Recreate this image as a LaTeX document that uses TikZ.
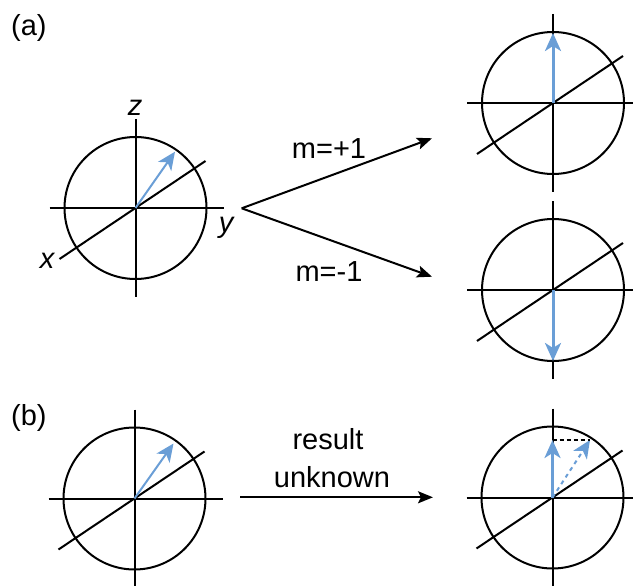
\documentclass[tikz,border=0pt]{standalone}
\usepackage{fontspec}
\setmainfont{Liberation Sans}
\usetikzlibrary{arrows.meta}

\definecolor{spinblue}{RGB}{106,158,214}

\tikzset{
  axis/.style={line width=2pt},
  spin/.style={spinblue,line width=2pt,-{Stealth[length=18pt,width=16pt,inset=5pt]}},
  spinz/.style={spin,line width=3pt},
  fate/.style={line width=2pt,-{Stealth[length=15pt,width=12pt,inset=3pt]}},
  lab/.style={inner sep=0pt,anchor=base},
}

\begin{document}
\begin{tikzpicture}[x=1pt,y=-1pt,font=\fontsize{29}{36}\selectfont]
\useasboundingbox (0,0) rectangle (633,586);
% sphere centres
\coordinate (A) at (135.5,208);
\coordinate (B) at (553,103);
\coordinate (C) at (553,290);
\coordinate (D) at (134.5,498.5);
\coordinate (E) at (552.5,497.5);
\foreach \c in {A,B,C,D,E}{
  \draw[axis] (\c) circle[radius=71pt];
  \draw[axis] ([shift={(0,-89)}]\c) -- ([shift={(0,89)}]\c);
  \draw[axis] ([shift={(-86,0)}]\c) -- ([shift={(88,0)}]\c);
  \draw[axis] ([shift={(-76,51)}]\c) -- ([shift={(70,-47)}]\c);
}
% axis letters
\node[lab] (zlab) at (135,116) {\itshape z};
\node[lab] (ylab) at (226,233) {\itshape y};
\node[lab] (xlab) at (47,268) {\itshape x};
% spins
\coordinate (Atip) at ([shift={(39.5,-56.3)}]A);
\coordinate (Btip) at ([shift={(0,-70)}]B);
\coordinate (Ctip) at ([shift={(0,71)}]C);
\coordinate (Dtip) at ([shift={(39,-55)}]D);
\coordinate (Etip) at ([shift={(0,-57.5)}]E);
\coordinate (Eold) at ([shift={(37.5,-57.5)}]E);
\draw[spin] (A) -- (Atip);
\draw[spinz] (B) -- (Btip);
\draw[spinz] (C) -- (Ctip);
\draw[spin] (D) -- (Dtip);
\draw[spinz] (E) -- (Etip);
\draw[spin,dash pattern=on 4pt off 4pt] (E) -- (Eold);
\draw[line width=1.6pt,dash pattern=on 4pt off 3pt] (Etip) -- (Eold);
% measurement outcomes
\coordinate (fork) at (241.7,208.3);
\coordinate (upend) at (432,138.3);
\coordinate (downend) at (432,276.7);
\draw[fate] (fork) -- (upend);
\draw[fate] (fork) -- (downend);
\node[lab] (mplus) at (329,158.3) {m=+1};
\node[lab] (mminus) at (329,281.7) {m=-1};
\coordinate (bstart) at (240,497.3);
\coordinate (bend) at (433,497.3);
\draw[fate] (bstart) -- (bend);
\node[lab] (res) at (328,449) {result};
\node[lab] (unk) at (332,487) {unknown};
% panel labels
\node[lab,anchor=base west] (pa) at (11,36) {(a)};
\node[lab,anchor=base west] (pb) at (11,425) {(b)};
\end{tikzpicture}
\end{document}
